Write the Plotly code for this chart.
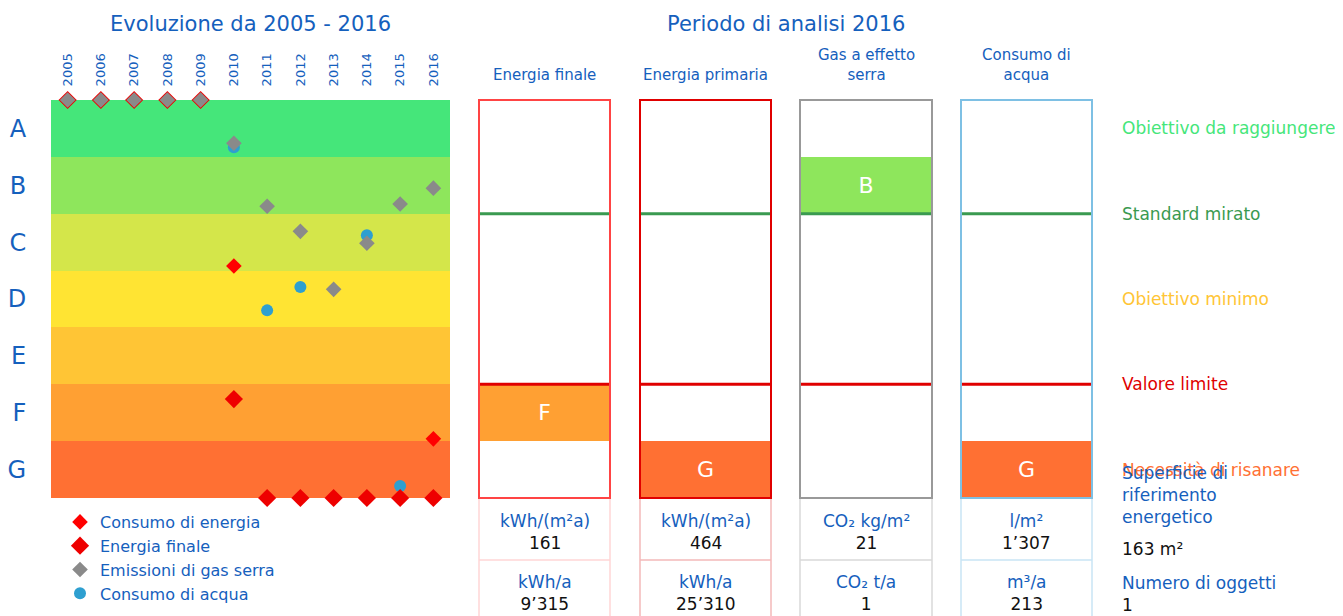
import plotly.graph_objects as go

# page has an 8px body margin: figure is sized to fill the rest of the window
OFF = 8
W, H = 1343 - OFF, 616 - OFF
BLUE = "#1560bd"

# ---------------- data ----------------
years = [2005, 2006, 2007, 2008, 2009, 2010, 2011, 2012, 2013, 2014, 2015, 2016]
classes = ["A", "B", "C", "D", "E", "F", "G"]
class_pos = [6.5, 5.5, 4.5, 3.5, 2.5, 1.5, 0.5]
class_colors = ["#45e67a", "#8ee65c", "#d4e64a", "#ffe433", "#ffc535", "#ffa033", "#ff7033"]

consumo_energia = [None, None, None, None, None, 4.08, None, None, None, None, None, 1.04]
energia_finale = [7, 7, 7, 7, 7, 1.74, 0, 0, 0, 0, 0, 0]
emissioni_gas = [7, 7, 7, 7, 7, 6.24, 5.13, 4.69, 3.67, 4.48, 5.17, 5.45]
consumo_acqua = [None, None, None, None, None, 6.17, 3.30, 3.71, None, 4.62, 0.21, None]

panel_titles = ["Energia finale", "Energia primaria", "Gas a effetto<br>serra", "Consumo di<br>acqua"]
panel_ratings = ["F", "G", "B", "G"]
panel_border = ["#ff4444", "#e00000", "#999999", "#7ec0e4"]
panel_cell = ["#ffd6d6", "#f3b8b8", "#d9d9d9", "#c8e4f4"]
unit1 = ["kWh/(m²a)", "kWh/(m²a)", "CO₂ kg/m²", "l/m²"]
value1 = ["161", "464", "21", "1’307"]
unit2 = ["kWh/a", "kWh/a", "CO₂ t/a", "m³/a"]
value2 = ["9’315", "25’310", "1", "213"]

target_labels = ["Obiettivo da raggiungere", "Standard mirato", "Obiettivo minimo", "Valore limite", "Necessità di risanare"]
target_pos = [6.5, 5, 3.5, 2, 0.5]
target_colors = ["#45e67a", "#3a9a50", "#ffc535", "#e00000", "#ff7033"]
line_standard = 5
line_limite = 2

superficie = "163 m²"
n_oggetti = "1"

# ---------------- geometry helpers (page pixels -> paper) ----------------
def px_x(p):
    return (p - OFF) / W

def px_y(p):
    return 1 - (p - OFF) / H

ydom = [px_y(498), px_y(100)]
panel_px = [(479, 610), (640, 771), (800, 932), (961, 1092)]

fig = go.Figure()

# bands
fig.add_trace(go.Bar(
    orientation="h", y=class_pos, x=[years[-1] - years[0] + 1] * len(class_pos),
    base=years[0] - 0.5, width=1, marker=dict(color=class_colors, line=dict(width=0)),
    showlegend=False, hoverinfo="skip", xaxis="x", yaxis="y"))

# scatter series (draw order for overlaps)
fig.add_trace(go.Scatter(
    x=years, y=consumo_acqua, mode="markers", name="Consumo di acqua", legendrank=4,
    marker=dict(symbol="circle", size=12, color="#2e9fd0"), cliponaxis=False,
    xaxis="x", yaxis="y"))
fig.add_trace(go.Scatter(
    x=years, y=energia_finale, mode="markers", name="Energia finale", legendrank=2,
    marker=dict(symbol="diamond", size=14, color="#ee0000"), cliponaxis=False,
    xaxis="x", yaxis="y"))
fig.add_trace(go.Scatter(
    x=years, y=emissioni_gas, mode="markers", name="Emissioni di gas serra", legendrank=3,
    marker=dict(symbol="diamond", size=12, color="#8a8a8a"), cliponaxis=False,
    xaxis="x", yaxis="y"))
fig.add_trace(go.Scatter(
    x=years, y=consumo_energia, mode="markers", name="Consumo di energia", legendrank=1,
    marker=dict(symbol="diamond", size=12, color="#ff0000"), cliponaxis=False,
    xaxis="x", yaxis="y"))

layout = dict(
    width=W, height=H, margin=dict(l=0, r=0, t=0, b=0),
    paper_bgcolor="white", plot_bgcolor="rgba(0,0,0,0)",
    font=dict(family="DejaVu Sans", color=BLUE),
    bargap=0,
    xaxis=dict(domain=[px_x(51), px_x(450)], range=[years[0] - 0.5, years[-1] + 0.5],
               side="top", tickvals=years, ticktext=[str(y) for y in years], tickangle=-90,
               tickfont=dict(size=13, color=BLUE), ticks="outside", ticklen=10,
               tickcolor="rgba(0,0,0,0)", showgrid=False, zeroline=False, showline=False,
               fixedrange=True),
    yaxis=dict(domain=ydom, range=[0, 7], tickvals=class_pos, ticktext=classes,
               tickfont=dict(size=24, color=BLUE), ticks="outside", ticklen=19,
               tickcolor="rgba(0,0,0,0)", showgrid=False, zeroline=False, showline=False,
               fixedrange=True),
    legend=dict(x=px_x(60), y=px_y(505), xanchor="left", yanchor="top",
                font=dict(size=16, color=BLUE), bgcolor="rgba(0,0,0,0)",
                itemsizing="trace", tracegroupgap=0),
    showlegend=True,
)

shapes = []
annotations = []

for i, (x0, x1) in enumerate(panel_px):
    k = i + 2
    xa, ya = f"x{k}", f"y{k}"
    layout[f"xaxis{k}"] = dict(domain=[px_x(x0), px_x(x1)], range=[0, 1], visible=False, fixedrange=True)
    layout[f"yaxis{k}"] = dict(domain=ydom, range=[0, 7], visible=False, fixedrange=True)
    ci = classes.index(panel_ratings[i])
    fig.add_trace(go.Bar(
        orientation="h", y=[class_pos[ci]], x=[1], base=0, width=1,
        marker=dict(color=class_colors[ci], line=dict(width=0)),
        text=[panel_ratings[i]], textposition="inside", insidetextanchor="middle",
        textfont=dict(size=22, color="white", family="DejaVu Sans"),
        showlegend=False, hoverinfo="skip", xaxis=xa, yaxis=ya))
    # threshold lines
    shapes.append(dict(type="line", xref=f"{xa} domain", yref=ya, x0=0, x1=1,
                       y0=line_standard, y1=line_standard, line=dict(color="#3a9a50", width=3), layer="above"))
    shapes.append(dict(type="line", xref=f"{xa} domain", yref=ya, x0=0, x1=1,
                       y0=line_limite, y1=line_limite, line=dict(color="#e00000", width=3), layer="above"))
    # box border
    shapes.append(dict(type="rect", xref=f"{xa} domain", yref=f"{ya} domain", x0=0, x1=1, y0=0, y1=1,
                       line=dict(color=panel_border[i], width=2), layer="above"))
    # table cells
    for xx in (0, 1):
        shapes.append(dict(type="line", xref=f"{xa} domain", yref="paper", x0=xx, x1=xx,
                           y0=0, y1=px_y(499), line=dict(color=panel_cell[i], width=1.5)))
    shapes.append(dict(type="line", xref=f"{xa} domain", yref="paper", x0=0, x1=1,
                       y0=px_y(560), y1=px_y(560), line=dict(color=panel_cell[i], width=1.5)))
    # header
    annotations.append(dict(xref=f"{xa} domain", yref="paper", x=0.5,
                            y=px_y(75 if "<br>" not in panel_titles[i] else 65),
                            text=panel_titles[i], showarrow=False, xanchor="center", yanchor="middle",
                            font=dict(size=15, color=BLUE)))
    # table text
    annotations.append(dict(xref=f"{xa} domain", yref="paper", x=0.5, y=px_y(532),
                            text=f"{unit1[i]}<br><span style='color:#111111'>{value1[i]}</span>",
                            showarrow=False, xanchor="center", yanchor="middle",
                            font=dict(size=17, color=BLUE)))
    annotations.append(dict(xref=f"{xa} domain", yref="paper", x=0.5, y=px_y(593),
                            text=f"{unit2[i]}<br><span style='color:#111111'>{value2[i]}</span>",
                            showarrow=False, xanchor="center", yanchor="middle",
                            font=dict(size=17, color=BLUE)))

# target labels on the right
for lab, pos, col in zip(target_labels, target_pos, target_colors):
    annotations.append(dict(xref="paper", yref="y5", x=px_x(1120), y=pos, text=lab,
                            showarrow=False, xanchor="left", yanchor="middle",
                            font=dict(size=17, color=col)))

annotations.append(dict(xref="paper", yref="paper", x=px_x(1120), y=px_y(495),
                        text="Superficie di<br>riferimento<br>energetico", showarrow=False,
                        xanchor="left", yanchor="middle", align="left", font=dict(size=17, color=BLUE)))
annotations.append(dict(xref="paper", yref="paper", x=px_x(1120), y=px_y(549),
                        text=superficie, showarrow=False, xanchor="left", yanchor="middle",
                        font=dict(size=17, color="#111111")))
annotations.append(dict(xref="paper", yref="paper", x=px_x(1120), y=px_y(594),
                        text=f"Numero di oggetti<br><span style='color:#111111'>{n_oggetti}</span>",
                        showarrow=False, xanchor="left", yanchor="middle", align="left",
                        font=dict(size=17, color=BLUE)))

# titles
annotations.append(dict(xref="paper", yref="paper", x=px_x(250), y=px_y(24),
                        text="Evoluzione da 2005 - 2016", showarrow=False, xanchor="center",
                        yanchor="middle", font=dict(size=21, color=BLUE)))
annotations.append(dict(xref="paper", yref="paper", x=px_x(786), y=px_y(24),
                        text="Periodo di analisi 2016", showarrow=False, xanchor="center",
                        yanchor="middle", font=dict(size=21, color=BLUE)))

layout["shapes"] = shapes
layout["annotations"] = annotations
fig.update_layout(**layout)

fig.write_html("out.html", config={"displayModeBar": False})
